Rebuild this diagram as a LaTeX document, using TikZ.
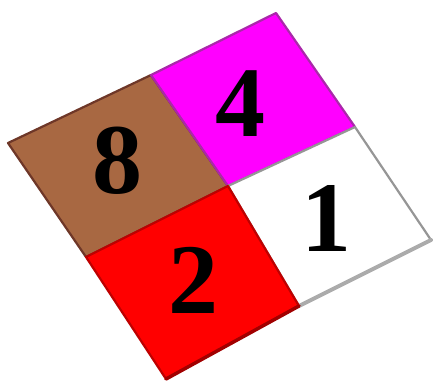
\documentclass[tikz,border=0pt]{standalone}
\usepackage{fontspec}
\setmainfont{Liberation Serif}
\definecolor{brownq}{RGB}{168,104,66}
\definecolor{brownedge}{RGB}{110,55,40}
\definecolor{magq}{RGB}{255,0,255}
\definecolor{magedge}{RGB}{170,40,170}
\definecolor{redq}{RGB}{255,0,0}
\definecolor{rededge}{RGB}{190,0,0}
\definecolor{whiteedge}{RGB}{150,150,150}
\tikzset{
  digit/.style={font=\fontsize{100}{100}\selectfont\bfseries, text=black, inner sep=0pt},
  quad/.style={line width=2.2pt, line join=round}
}
\begin{document}
\begin{tikzpicture}[x=1pt,y=-1pt]
\useasboundingbox (0,0) rectangle (434,386);
% vertices
\coordinate (T) at (276,13);
\coordinate (TR) at (355,127);
\coordinate (R) at (431,240);
\coordinate (BR) at (299,306);
\coordinate (B) at (166,379);
\coordinate (BL) at (86,257);
\coordinate (L) at (8,143);
\coordinate (TL) at (151,75);
\coordinate (C) at (228,186);
% brown
\draw[quad, fill=brownq, draw=brownedge] (TL) -- (C) -- (BL) -- (L) -- cycle;
% magenta
\draw[quad, fill=magq, draw=magedge] (T) -- (TR) -- (C) -- (TL) -- cycle;
% white
\draw[quad, fill=white, draw=whiteedge] (C) -- (TR) -- (R) -- (BR) -- cycle;
\draw[line width=4pt, whiteedge!80, line cap=round] (R) -- (BR);
% red
\draw[quad, fill=redq, draw=rededge] (C) -- (BR) -- (B) -- (BL) -- cycle;
\draw[line width=3.5pt, rededge!85!black, line cap=round] (BR) -- (B);
% digits
\node[digit] (n4) at (240,104) {4};
\node[digit] (n8) at (117,161) {8};
\node[digit] (n1) at (326,218) {1};
\node[digit] (n2) at (193,280) {2};
\end{tikzpicture}
\end{document}
